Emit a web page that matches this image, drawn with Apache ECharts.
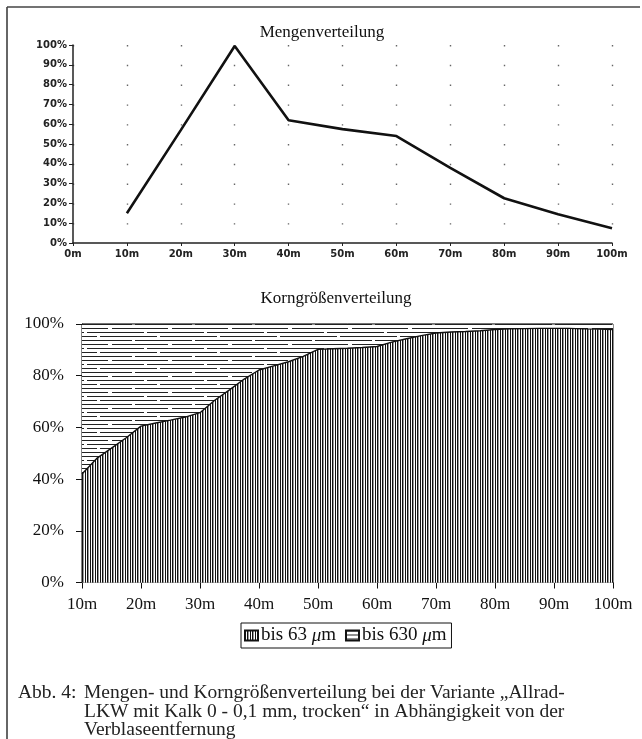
<!DOCTYPE html>
<html>
<head>
<meta charset="utf-8">
<script src="https://cdn.jsdelivr.net/npm/echarts@6/dist/echarts.min.js"></script>
<style>
  html, body { margin: 0; padding: 0; background: #fff; }
  #chart { width: 642px; height: 739px; }
</style>
</head>
<body>
<div id="chart"></div>
<script>
// ===== Mengen- und Korngrößenverteilung =====

// oberes Diagramm: Mengenverteilung
const mengeDist = [10, 20, 30, 40, 50, 60, 70, 80, 90, 100];
const mengeWerte = [15, 57, 99.5, 62, 57.5, 54, 38, 22.6, 14.5, 7.4];

// unteres Diagramm: Korngrößenverteilung (Summenkurve)
const kornDist = [10, 12.5, 15, 17.5, 20, 22.5, 25, 27.5, 30, 32.5, 35, 37.5, 40, 42.5, 45, 47.5, 50,
  52.5, 55, 57.5, 60, 62.5, 65, 67.5, 70, 72.5, 75, 77.5, 80, 82.5, 85, 87.5, 90, 92.5, 95, 97.5, 100];
const bis63 = [42, 48, 52, 56, 60.5, 61.7, 62.8, 64, 65.7, 70.5, 74.5, 78.7, 82.2, 83.8, 85.4, 87.5, 90.2,
  90.4, 90.6, 90.9, 91.3, 93, 94.3, 95.5, 96.5, 96.9, 97.1, 97.4, 97.9, 98.1, 98.2, 98.3, 98.3, 98.3, 98.1, 98, 97.9];
const bis630 = [100, 100, 100, 100, 100, 100, 100, 100, 100, 100, 100, 100, 100, 100, 100, 100, 100,
  100, 100, 100, 100, 100, 100, 100, 100, 100, 100, 100, 100, 100, 100, 100, 100, 100, 100, 100, 100];

const SERIF = '"Liberation Serif", "Times New Roman", serif';
const SANS = '"DejaVu Sans", Verdana, sans-serif';

// Schraffuren
function hatch(w, h, draw) {
  const c = document.createElement('canvas');
  c.width = w; c.height = h;
  const ctx = c.getContext('2d');
  ctx.fillStyle = '#fff';
  ctx.fillRect(0, 0, w, h);
  draw(ctx);
  return { image: c, repeat: 'repeat' };
}
const vertHatch = hatch(5, 1, ctx => {
  ctx.fillStyle = '#111';
  ctx.fillRect(0, 0, 1, 1);
  ctx.fillRect(2, 0, 1, 1);
  ctx.fillStyle = '#999';
  ctx.fillRect(3, 0, 1, 1);
});
// horizontale Linien, stellenweise unterbrochen
const horizHatch = hatch(60, 16, ctx => {
  ctx.fillStyle = '#222';
  ctx.fillRect(0, 0, 37, 1); ctx.fillRect(40, 0, 20, 1);
  ctx.fillRect(0, 4, 12, 1); ctx.fillRect(15, 4, 45, 1);
  ctx.fillRect(0, 8, 48, 1); ctx.fillRect(52, 8, 8, 1);
  ctx.fillRect(0, 12, 24, 1); ctx.fillRect(27, 12, 33, 1);
});

const chart = echarts.init(document.getElementById('chart'), null, { renderer: 'canvas' });

const option = {
  animation: false,
  backgroundColor: '#fff',
  title: [
    { text: 'Mengenverteilung', left: 317, top: 19, textAlign: 'center',
      textStyle: { fontFamily: SERIF, fontSize: 17, fontWeight: 'normal', color: '#111' } },
    { text: 'Korngrößenverteilung', left: 331, top: 285, textAlign: 'center',
      textStyle: { fontFamily: SERIF, fontSize: 17, fontWeight: 'normal', color: '#111' } },
  ],
  grid: [
    { left: 73, top: 45, width: 539, height: 198 },
    { left: 82, top: 324, width: 531, height: 258.5, show: true, borderColor: '#222', borderWidth: 1 },
  ],
  legend: {
    data: ['bis 63 μm', 'bis 630 μm'],
    left: 241, top: 623,
    orient: 'horizontal',
    icon: 'rect',
    borderColor: '#111', borderWidth: 1,
    padding: [3, 5, 3, 3],
    itemGap: 9,
    itemWidth: 13, itemHeight: 10,
    formatter: name => '{t|' + name.replace(' μm', ' ') + '}{mu|μ}{t|m}',
    textStyle: {
      padding: [0, 0, 0, -2],
      rich: {
        t: { fontFamily: SERIF, fontSize: 19, color: '#111' },
        mu: { fontFamily: SERIF, fontSize: 19, fontStyle: 'italic', color: '#111' },
      },
    },
  },
  xAxis: [
    {
      gridIndex: 0, type: 'value', min: 0, max: 100, interval: 10,
      axisLine: { lineStyle: { color: '#222', width: 1.5 } },
      axisTick: { length: 3, lineStyle: { color: '#222' } },
      axisLabel: { formatter: '{value}m', margin: 6, fontFamily: SANS, fontWeight: 'bold', fontSize: 10, color: '#222' },
      splitLine: { show: true, lineStyle: { color: '#666', width: 1.4, type: [1.4, 18.4] } },
    },
    {
      gridIndex: 1, type: 'value', min: 10, max: 100, interval: 10,
      axisLine: { lineStyle: { color: '#111', width: 1.2 } },
      axisTick: { length: 6, lineStyle: { color: '#111' } },
      axisLabel: { formatter: '{value}m', margin: 14, fontFamily: SERIF, fontSize: 17, color: '#111' },
      splitLine: { show: false },
    },
  ],
  yAxis: [
    {
      gridIndex: 0, type: 'value', min: 0, max: 100, interval: 10,
      axisLine: { show: true, lineStyle: { color: '#222', width: 1.5 } },
      axisTick: { show: true, length: 4, lineStyle: { color: '#222' } },
      axisLabel: { formatter: '{value}%', margin: 6, fontFamily: SANS, fontWeight: 'bold', fontSize: 10, color: '#222' },
      splitLine: { show: false },
    },
    {
      gridIndex: 1, type: 'value', min: 0, max: 100, interval: 20,
      axisLine: { show: true, lineStyle: { color: '#111', width: 1.2 } },
      axisTick: { show: true, length: 6, lineStyle: { color: '#111' } },
      axisLabel: { formatter: '{value}%', margin: 18, fontFamily: SERIF, fontSize: 17, color: '#111' },
      splitLine: { show: false },
    },
  ],
  series: [
    {
      name: 'Menge', type: 'line', xAxisIndex: 0, yAxisIndex: 0,
      data: mengeDist.map((d, i) => [d, mengeWerte[i]]),
      symbol: 'none',
      lineStyle: { color: '#111', width: 2.6 },
    },
    {
      name: 'bis 630 μm', type: 'line', xAxisIndex: 1, yAxisIndex: 1,
      data: kornDist.map((d, i) => [d, bis630[i]]),
      symbol: 'none', z: 1,
      lineStyle: { color: '#222', width: 1 },
      itemStyle: { color: horizHatch, borderColor: '#111', borderWidth: 1 },
      areaStyle: { color: horizHatch, opacity: 1 },
    },
    {
      name: 'bis 63 μm', type: 'line', xAxisIndex: 1, yAxisIndex: 1,
      data: kornDist.map((d, i) => [d, bis63[i]]),
      symbol: 'none', z: 2,
      lineStyle: { color: '#111', width: 1.4 },
      itemStyle: { color: vertHatch, borderColor: '#111', borderWidth: 1 },
      areaStyle: { color: vertHatch, opacity: 1 },
    },
  ],
  graphic: [
    { type: 'line', shape: { x1: 7, y1: 7, x2: 7, y2: 739 }, style: { stroke: '#333', lineWidth: 1.5 } },
    { type: 'line', shape: { x1: 7, y1: 7, x2: 640, y2: 7 }, style: { stroke: '#444', lineWidth: 1.5 } },
    { type: 'text', left: 18, top: 683,
      style: { text: 'Abb. 4:', font: '19.5px ' + SERIF, fill: '#222' } },
    { type: 'text', left: 84, top: 683,
      style: { text: 'Mengen- und Korngrößenverteilung bei der Variante „Allrad-', font: '19.5px ' + SERIF, fill: '#222' } },
    { type: 'text', left: 84, top: 702,
      style: { text: 'LKW mit Kalk 0 - 0,1 mm, trocken“ in Abhängigkeit von der', font: '19.5px ' + SERIF, fill: '#222' } },
    { type: 'text', left: 84, top: 720,
      style: { text: 'Verblaseentfernung', font: '19.5px ' + SERIF, fill: '#222' } },
  ],
};

chart.setOption(option);
window.addEventListener('resize', () => chart.resize());
</script>
</body>
</html>
